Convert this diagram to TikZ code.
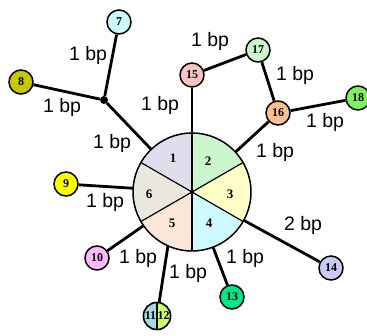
\documentclass[tikz,border=0pt]{standalone}
\usepackage{fontspec}
\setmainfont{Liberation Serif}
\newfontfamily\lblfont{Liberation Sans}
\definecolor{cA}{HTML}{E2DDEC}
\definecolor{cB}{HTML}{CCF7CC}
\definecolor{cC}{HTML}{FFFFC8}
\definecolor{cD}{HTML}{CCFAFF}
\definecolor{cE}{HTML}{FCE6D8}
\definecolor{cF}{HTML}{EAE8DE}
\definecolor{c7}{HTML}{CCFAFF}
\definecolor{c8}{HTML}{C8C800}
\definecolor{c9}{HTML}{FFFF00}
\definecolor{c10}{HTML}{FFB8FF}
\definecolor{c11}{HTML}{A8D8E4}
\definecolor{c12}{HTML}{CCFF66}
\definecolor{c13}{HTML}{00E88C}
\definecolor{c14}{HTML}{CACAF2}
\definecolor{c15}{HTML}{F6C4C4}
\definecolor{c16}{HTML}{FAC090}
\definecolor{c17}{HTML}{CCF5CC}
\definecolor{c18}{HTML}{80F060}
\begin{document}
\begin{tikzpicture}[x=1pt,y=-1pt,
  small/.style={circle,draw,line width=1.5pt,minimum size=24pt,inner sep=0pt,font=\bfseries\fontsize{12}{12}\selectfont},
  edge/.style={line width=2.8pt},
  lbl/.style={font=\lblfont\fontsize{19.5}{19.5}\selectfont,inner sep=0pt},
  num/.style={font=\bfseries\fontsize{13}{13}\selectfont,inner sep=0pt}]
\useasboundingbox (0,0) rectangle (367,335);
% central circle
\node[circle,minimum size=118pt,inner sep=0pt] (C) at (192,192) {};
\fill[cA] (C.center) -- ++(90:59pt) arc[start angle=90,end angle=150,radius=59pt] -- cycle;
\fill[cF] (C.center) -- ++(150:59pt) arc[start angle=150,end angle=210,radius=59pt] -- cycle;
\fill[cE] (C.center) -- ++(210:59pt) arc[start angle=210,end angle=270,radius=59pt] -- cycle;
\fill[cD] (C.center) -- ++(270:59pt) arc[start angle=270,end angle=330,radius=59pt] -- cycle;
\fill[cC] (C.center) -- ++(-30:59pt) arc[start angle=-30,end angle=30,radius=59pt] -- cycle;
\fill[cB] (C.center) -- ++(30:59pt) arc[start angle=30,end angle=90,radius=59pt] -- cycle;
\foreach \a in {30,90,150,210,270,330} \draw[line width=1.2pt] (C.center) -- (C.\a);
\draw[line width=1.5pt] (C.center) circle[radius=59pt];
\node[num] (s1) at (173,158) {1};
\node[num] (s2) at (208,161) {2};
\node[num] (s3) at (230,194) {3};
\node[num] (s4) at (209,223) {4};
\node[num] (s5) at (172,223) {5};
\node[num] (s6) at (149,194) {6};
% small nodes
\node[small,fill=c7] (n7) at (119,22) {7};
\node[small,fill=c8] (n8) at (21,82) {8};
\node[circle,fill,inner sep=0pt,minimum size=8pt] (J) at (104,100) {};
\node[small,fill=c9] (n9) at (66,184) {9};
\node[small,fill=c10] (n10) at (97,258) {10};
\node[small,minimum size=27pt] (n11) at (157,316) {};
\fill[c11] (n11.center) ++(90:13.5pt) arc[start angle=90,end angle=270,radius=13.5pt] -- cycle;
\fill[c12] (n11.center) ++(-90:13.5pt) arc[start angle=-90,end angle=90,radius=13.5pt] -- cycle;
\draw[line width=1.2pt] (n11.north) -- (n11.south);
\draw[line width=1.5pt] (n11.center) circle[radius=13.5pt];
\node[num,font=\bfseries\fontsize{12}{12}\selectfont] (t11) at (150.5,316) {11};
\node[num,font=\bfseries\fontsize{12}{12}\selectfont] (t12) at (163.5,316) {12};
\node[small,fill=c13] (n13) at (232,297) {13};
\node[small,fill=c14] (n14) at (331,268) {14};
\node[small,fill=c15] (n15) at (192,75) {15};
\node[small,fill=c16] (n16) at (278,113) {16};
\node[small,fill=c17] (n17) at (258,50) {17};
\node[small,fill=c18] (n18) at (358,98) {18};
% edges
\draw[edge] (J) -- (n7);
\draw[edge] (J) -- (n8);
\draw[edge] (J) -- (C);
\draw[edge] (n9) -- (C);
\draw[edge] (n10) -- (C);
\draw[edge] (n11) -- (C.246);
\draw[edge] (n13) -- (C);
\draw[edge] (n14) -- (C);
\draw[edge] (n15) -- (C);
\draw[edge] (n16) -- (C);
\draw[edge] (n15) -- (n17);
\draw[edge] (n17) -- (n16);
\draw[edge] (n16) -- (n18);
% labels
\node[lbl] (l7) at (88,55) {1 bp};
\node[lbl] (l8) at (62,107) {1 bp};
\node[lbl] (l15) at (160,105) {1 bp};
\node[lbl] (lJ) at (112,143) {1 bp};
\node[lbl] (l1517) at (210,41) {1 bp};
\node[lbl] (l1716) at (295,75) {1 bp};
\node[lbl] (l18) at (325,122) {1 bp};
\node[lbl] (l16) at (275,152) {1 bp};
\node[lbl] (l9) at (105,202) {1 bp};
\node[lbl] (l10) at (138,258) {1 bp};
\node[lbl] (l11) at (188,273) {1 bp};
\node[lbl] (l13) at (245,258) {1 bp};
\node[lbl] (l14) at (303,225) {2 bp};
\end{tikzpicture}
\end{document}
